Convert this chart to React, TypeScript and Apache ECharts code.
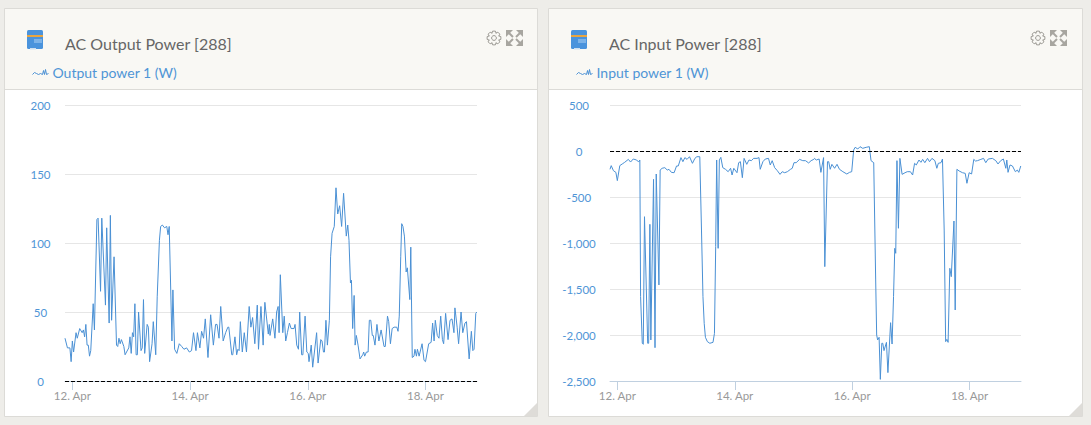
import React, { useEffect, useRef } from "react";
import * as echarts from "echarts";

const outputName = "Output power 1 (W)";
const inputName = "Input power 1 (W)";
const outputTitle = "AC Output Power [288]";
const inputTitle = "AC Input Power [288]";
const tickHours = [0, 48, 96, 144];
const tickLabels = ["12. Apr", "14. Apr", "16. Apr", "18. Apr"];
const outputTicks = [0, 50, 100, 150, 200];
const inputTicks = [-2500, -2000, -1500, -1000, -500, 0, 500];

// hours since 12 Apr 00:00
const outputHours = [-3,-2,-1,-0.5,0,0.5,1.5,2,3,4,4.5,5,5.5,6,6.5,7,7.5,8.5,9,10,10.5,11.5,12,13.5,14,15,15.5,16,17,18,18.5,19,19.5,20,21,21.5,23,23.5,24,24.5,25,25.5,26,26.5,27,28,28.5,29,29.5,30.5,31,31.5,32.5,33,34,34.6,35.5,36,36.7,37.6,38.5,39,39.5,40.6,41,41.7,42.6,43.6,44.6,45.5,46.6,47.7,48.6,49.4,50.4,51,52,52.7,53.5,54.2,55.3,56.4,57.5,58.4,59,59.8,60.5,61.5,62.5,63.4,63.8,65,65.4,66.3,67,67.5,68,68.5,69.3,70.1,71,72.1,72.8,73.5,74.4,75.4,75.9,76.9,77.8,78.5,79.9,80.3,
  80.6,81.7,82.6,83.3,83.9,84.3,84.8,85.8,86.4,87,87.7,88.5,89.2,90.4,90.8,91.5,92.2,92.7,93.5,94,94.9,95.6,96.2,96.5,97.4,98,98.7,99.6,100.2,101.3,101.8,102.4,102.8,103.4,104,104.8,105.3,105.9,106.8,107.5,108.2,109,109.8,110.6,111.7,112.3,112.8,113.4,113.8,114.3,114.9,115.3,115.8,116.5,117.3,118.4,118.8,119.2,119.9,120.6,121.1,121.7,122.3,122.7,123.4,124.2,125,125.9,127.1,127.6,128.5,129,129.7,130.4,131.2,132.3,132.8,133.3,133.9,134.3,134.8,135.4,136.1,136.6,137.6,138,138.6,139.3,139.7,140.3,140.7,141.4,142.6,143.4,144,145.3,146.3,146.9,147.5,148,148.8,149.5,150.2,150.9,151.4,152.2,153.2,154,154.8,155.6,156,156.9,157.5,158.5,159.2,160.1,160.7,161.8,162.7,163.3,163.8,164.5,164.9];
const outputValues = [31,24,24,14,29,21,35,31,38,35,37,32,41,26,26,18,22,56,37,117,118,65,118,55,111,42,120,44,90,26,25,31,27,30,25,19,24,32,20,35,32,56,19,19,50,22,24,59,20,41,39,14,27,43,19,61,102,112,113,111,112,106,112,29,66,23,20,27,25,23,24,21,22,35,22,35,24,36,31,45,17,48,26,41,41,31,54,29,35,39,39,19,19,32,19,23,22,43,21,35,21,54,39,46,27,55,23,54,26,57,34,41,
  33,45,31,50,54,35,77,35,47,29,35,42,38,38,41,26,23,50,19,19,47,21,20,14,26,10,21,35,13,30,29,21,21,44,26,44,90,107,112,140,121,127,112,136,105,113,102,71,73,38,62,26,33,26,16,19,21,18,21,21,44,44,33,33,26,41,29,37,25,25,47,43,27,38,39,39,36,47,90,114,112,105,79,82,59,97,17,18,23,18,23,18,27,15,14,27,28,42,29,44,33,31,47,30,27,49,30,44,45,35,53,39,27,50,35,42,43,16,36,22,23,49,50];

const inputHours = [-3,-2.5,-1.6,-0.6,0,1,2,3,4.5,5.4,6.5,7.9,8.7,9.2,9.5,10.2,10.6,11.1,12.4,12.8,13.3,13.7,14.8,15.4,15.9,17,17.5,18.3,19.4,20.4,21.1,22.1,23.2,24.2,24.9,26,26.8,27.6,28.5,29.5,30.7,31.7,32.5,33.7,34.4,35,35.5,36,36.8,37.8,39.1,39.7,40.2,40.6,41.2,41.7,42.3,43.1,44.2,45.3,46.3,46.9,47.6,48.9,49.6,50.3,51.1,51.8,52.9,53.8,54.8,55.7,57.1,57.9,58.4,59.5,60.5,61.8,62.5,63.3,64.3,65.4,66.5,67.4,68.4,69.5,70.8,71.5,72.2,73.1,74.5,75.8,76.9,78.2,79.2,80.3,
  80.6,81.3,82.5,83.2,84.3,84.8,85.9,86.4,87,87.7,88.8,89.8,90.8,92.2,93.8,94.9,95.8,96.6,97.2,98.3,99.2,100.3,101.7,103,103.7,104.8,105.6,106,106.4,107,107.5,108.1,108.5,109,110,110.6,111.7,112.3,112.9,113.4,113.8,114.3,114.9,115.5,116.4,117.6,118.5,119.8,120.7,121.5,122.2,123.3,124.1,124.8,125.7,126.8,127.6,128.6,129.8,130.6,131.2,132.3,132.9,133.6,134.2,134.7,135.2,135.9,136.5,137.6,138.1,138.8,139.7,141.1,142.2,142.9,143.8,144.8,145.7,146.4,147.2,148.6,149.7,150.6,151.6,153.3,154.7,155.6,156.7,157.8,158.8,159.2,159.7,160.5,161.5,162.7,163.5,164.1,164.9];
const inputValues = [-199,-159,-214,-232,-322,-159,-141,-123,-91,-120,-87,-98,-120,-98,-1583,-2090,-2101,-714,-2090,-2090,-797,-2054,-308,-2138,-250,-1456,-207,-188,-181,-207,-199,-232,-236,-163,-163,-72,-116,-72,-91,-62,-134,-80,-62,-62,-859,-1583,-1873,-2025,-2072,-2090,-2080,-1982,-1040,-98,-1058,-98,-69,-181,-199,-225,-188,-261,-188,-236,-127,-116,-290,-80,-145,-98,-105,-80,-80,-72,-199,-116,-87,-80,-152,-105,-181,-214,-254,-225,-236,-225,-199,-188,-127,-127,-91,-105,-105,-130,-105,-91,
  -80,-98,-87,-232,-72,-1257,-116,-116,-199,-145,-188,-145,-199,-225,-250,-232,-225,11,40,22,47,29,40,47,-105,-127,-1402,-2000,-2054,-2025,-2482,-2090,-2090,-2170,-2080,-2409,-1866,-2098,-1583,-1058,-1112,-105,-840,-80,-254,-236,-225,-225,-261,-134,-152,-98,-123,-91,-127,-80,-116,-80,-105,-188,-134,-127,-87,-859,-2072,-2047,-2080,-1275,-1366,-761,-1728,-199,-217,-236,-243,-351,-236,-250,-91,-109,-105,-91,-80,-127,-87,-80,-105,-141,-105,-87,-188,-98,-232,-152,-163,-225,-207,-232,-163];

const BLUE = "#4a90d4";
const LABEL_BLUE = "#4f95d6";
const FONT = "Lato";
const SQUIGGLE = "path://M0 6 L2 4 L4 5 L6 6 L8 5 L10 6 L11 2 L12 6 L13 1 L14 6 L16 5";

function gearPoints(cx: number, cy: number) {
  const pts: number[][] = [];
  for (let i = 0; i < 8; i++) {
    const a = (i * Math.PI) / 4;
    [[-0.42, 5.2], [-0.2, 7], [0.2, 7], [0.42, 5.2]].forEach(([da, r]) =>
      pts.push([cx + r * Math.cos(a + da), cy + r * Math.sin(a + da)])
    );
  }
  return pts;
}

function panel(dx: number, w: number) {
  const left = 4 + dx;
  const right = left + w;
  const grey = "#a8a6a0";
  const ex = 506 + dx;
  const ey = 30;
  const arrow = (pts: number[][], a: number[], b: number[]) => [
    { type: "polygon", shape: { points: pts }, style: { fill: grey }, z: 1 },
    { type: "line", shape: { x1: a[0], y1: a[1], x2: b[0], y2: b[1] }, style: { stroke: grey, lineWidth: 2 }, z: 1 },
  ];
  return [
    { type: "rect", shape: { x: left + 0.5, y: 8.5, width: w, height: 408 }, style: { fill: "#fff", stroke: "#dcdbd7", lineWidth: 1 }, z: -5 },
    { type: "rect", shape: { x: left + 1, y: 9, width: w - 1, height: 80 }, style: { fill: "#f9f8f4", stroke: "none" }, z: -4 },
    { type: "line", shape: { x1: left, y1: 89.5, x2: right, y2: 89.5 }, style: { stroke: "#dcdbd7", lineWidth: 1 }, z: -3 },
    { type: "polygon", shape: { points: [[right, 403], [right, 416], [right - 13, 416]] }, style: { fill: "#dedcd8" }, z: -3 },
    // inverter icon
    { type: "rect", shape: { x: 27 + dx, y: 30, width: 16, height: 19, r: 1.5 }, style: { fill: "#4a93dc" }, z: 1 },
    { type: "rect", shape: { x: 27 + dx, y: 35, width: 16, height: 2 }, style: { fill: "#e9a53f" }, z: 2 },
    { type: "rect", shape: { x: 34 + dx, y: 39, width: 8, height: 4 }, style: { fill: "#7db3e8" }, z: 2 },
    { type: "rect", shape: { x: 30 + dx, y: 48, width: 6, height: 1.5 }, style: { fill: "#cfe0f0" }, z: 2 },
    // settings icon
    { type: "polygon", shape: { points: gearPoints(494 + dx, 38) }, style: { fill: "none", stroke: "#9c9a94", lineWidth: 1 }, z: 1 },
    { type: "circle", shape: { cx: 494 + dx, cy: 38, r: 2.4 }, style: { fill: "none", stroke: "#9c9a94", lineWidth: 1 }, z: 1 },
    // expand icon
    ...arrow([[ex, ey], [ex + 7, ey], [ex, ey + 7]], [ex + 2, ey + 2], [ex + 7, ey + 7]),
    ...arrow([[ex + 17, ey], [ex + 10, ey], [ex + 17, ey + 7]], [ex + 15, ey + 2], [ex + 10, ey + 7]),
    ...arrow([[ex, ey + 16], [ex + 7, ey + 16], [ex, ey + 9]], [ex + 2, ey + 14], [ex + 7, ey + 9]),
    ...arrow([[ex + 17, ey + 16], [ex + 10, ey + 16], [ex + 17, ey + 9]], [ex + 15, ey + 14], [ex + 10, ey + 9]),
  ];
}

function zip(hours: number[], values: number[]) {
  return hours.map((h, i) => [h, values[i]]);
}

function xAxis(gridIndex: number) {
  return {
    type: "value",
    gridIndex,
    min: -3,
    max: 165,
    splitLine: { show: false },
    axisLine: { show: true, onZero: false, lineStyle: { color: "#c0d0e0", width: 1 } },
    axisTick: { show: true, length: 9, customValues: tickHours, lineStyle: { color: "#c0d0e0", width: 1 } },
    axisLabel: {
      customValues: tickHours,
      margin: 8,
      color: "#999",
      fontFamily: FONT,
      fontSize: 11.5,
      formatter: (v: number) => tickLabels[tickHours.indexOf(v)],
    },
  };
}

function yAxis(gridIndex: number, ticks: number[], margin: number) {
  return {
    type: "value",
    gridIndex,
    min: ticks[0],
    max: ticks[ticks.length - 1],
    interval: ticks[1] - ticks[0],
    axisLine: { show: false },
    axisTick: { show: false },
    splitLine: { lineStyle: { color: "#e6e6e6", width: 1 } },
    axisLabel: { margin, align: "center", color: LABEL_BLUE, fontFamily: FONT, fontSize: 11.5 },
  };
}

function lineSeries(name: string, idx: number, data: number[][]) {
  return {
    type: "line",
    name,
    xAxisIndex: idx,
    yAxisIndex: idx,
    data,
    showSymbol: false,
    symbol: "none",
    lineStyle: { color: BLUE, width: 1 },
    itemStyle: { color: BLUE },
    markLine: {
      silent: true,
      symbol: "none",
      label: { show: false },
      lineStyle: { color: "#000", type: [4, 2], width: 1.2 },
      data: [{ yAxis: 0 }],
    },
  };
}

function titleAt(text: string, left: number) {
  return { text, left, top: 30, textStyle: { fontFamily: FONT, fontSize: 16, fontWeight: "normal", color: "#666" } };
}

function legendAt(name: string, left: number) {
  return {
    data: [name],
    left,
    top: 60,
    icon: SQUIGGLE,
    itemWidth: 16,
    itemHeight: 7,
    itemGap: 4,
    itemStyle: { color: "none", borderColor: BLUE, borderWidth: 1 },
    lineStyle: { opacity: 0 },
    textStyle: { fontFamily: FONT, fontSize: 14, color: LABEL_BLUE, padding: [0, 0, 0, -1] },
    selectedMode: false,
  };
}

export default function App() {
  const ref = useRef<HTMLDivElement>(null);
  useEffect(() => {
    document.body.style.margin = "0";
    document.body.style.background = "#eeede9";
    const chart = echarts.init(ref.current!, undefined, { renderer: "svg" });
    chart.setOption({
      animation: false,
      backgroundColor: "#eeede9",
      title: [titleAt(outputTitle, 60), titleAt(inputTitle, 604)],
      legend: [legendAt(outputName, 25), legendAt(inputName, 569)],
      grid: [
        { left: 65, width: 412, top: 105, height: 276 },
        { left: 610, width: 411, top: 105, height: 276 },
      ],
      xAxis: [xAxis(0), xAxis(1)],
      yAxis: [yAxis(0, outputTicks, 24.5), yAxis(1, inputTicks, 31)],
      series: [
        lineSeries(outputName, 0, zip(outputHours, outputValues)),
        lineSeries(inputName, 1, zip(inputHours, inputValues)),
      ],
      graphic: { elements: [...panel(0, 533), ...panel(544, 534)] },
    });
    return () => chart.dispose();
  }, []);
  return <div ref={ref} style={{ width: 1091, height: 425 }} />;
}
